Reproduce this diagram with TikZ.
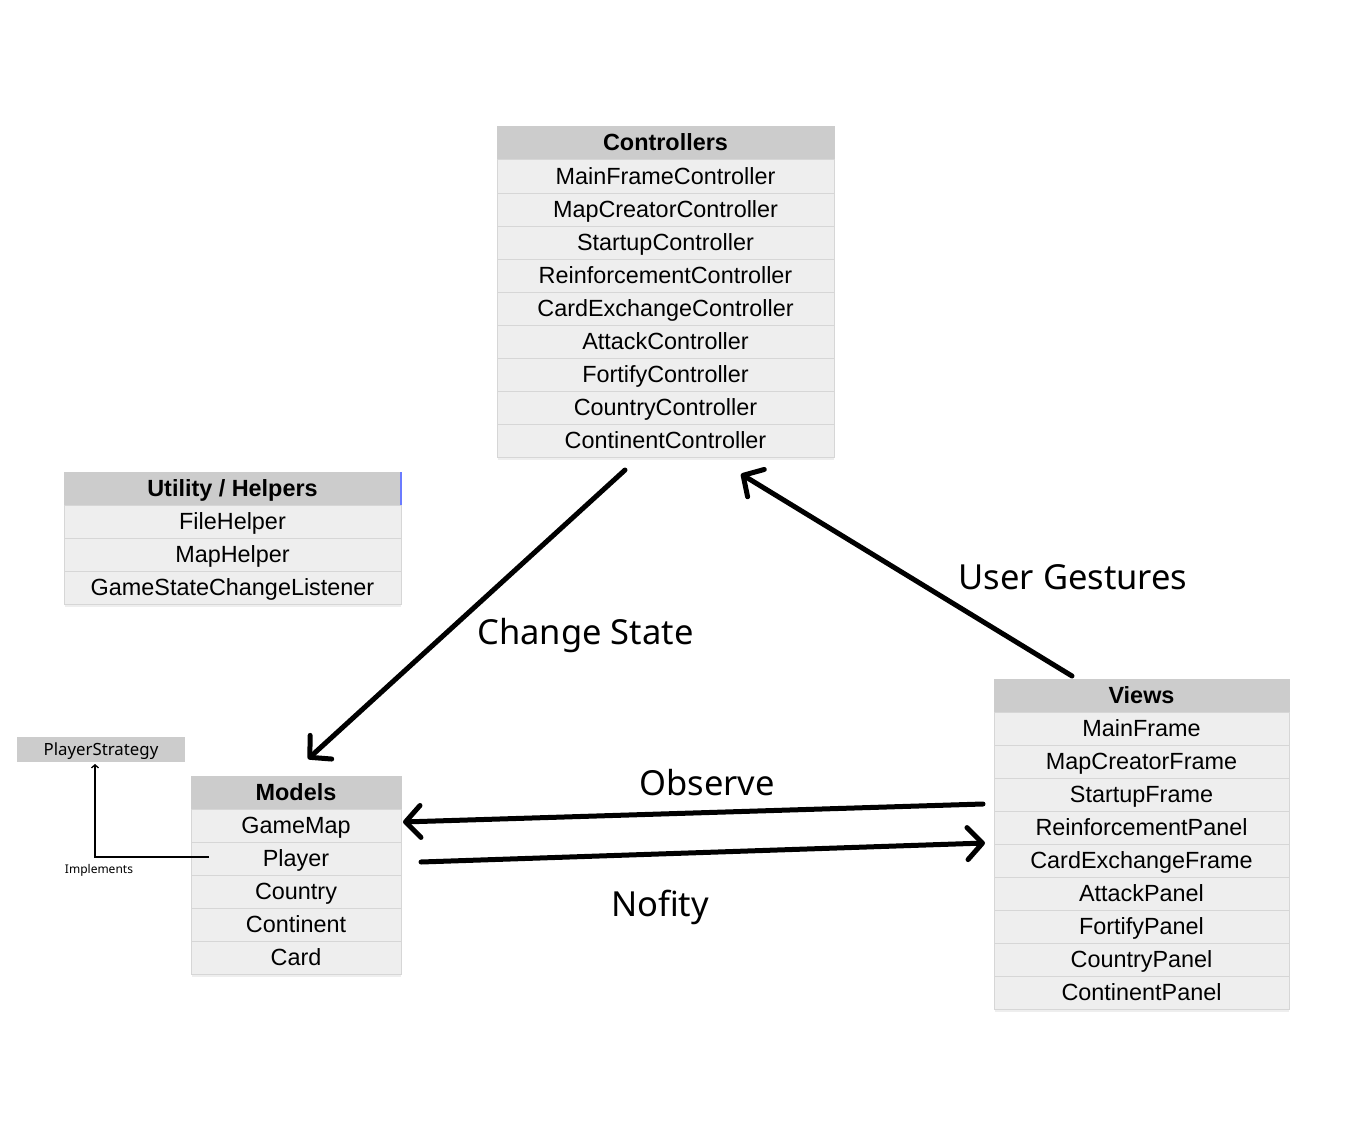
\documentclass[tikz,border=0pt]{standalone}
\usepackage{fontspec}
\setmainfont{Liberation Sans}
\newfontfamily\labelfont{Noto Sans}
\usetikzlibrary{arrows.meta}
\definecolor{hdrgray}{HTML}{CCCCCC}
\definecolor{rowgray}{HTML}{EEEEEE}
\definecolor{sepgray}{HTML}{D6D6D6}
\definecolor{edgeblue}{HTML}{6B7BFF}
\tikzset{
  cell/.style={inner sep=0pt, minimum height=33pt, line width=1pt, draw=sepgray,
    text height=16.5pt, text depth=1.5pt, font=\fontsize{23.4}{23.4}\selectfont},
  hdr/.style={cell, fill=hdrgray, draw=hdrgray, font=\fontsize{23.4}{23.4}\selectfont\bfseries},
  rowcell/.style={cell, fill=rowgray},
  bigarrow/.style={line width=5pt, line cap=round,
    -{Straight Barb[length=15pt,width=32pt,round]}},
  biglabel/.style={inner sep=0pt, anchor=base, font=\labelfont\fontsize{34.5}{34.5}\selectfont},
}
\begin{document}
\begin{tikzpicture}[x=1pt,y=-1pt]
\useasboundingbox (0,0) rectangle (1363,1137);

% Controllers
\node[hdr, minimum width=337pt] (ctlh) at (665.5,143.5) {Controllers};
\foreach [count=\i] \t in {MainFrameController,MapCreatorController,StartupController,ReinforcementController,CardExchangeController,AttackController,FortifyController,CountryController,ContinentController}
  \node[rowcell, minimum width=337pt] (ctl\i) at (665.5,{160+16.5+(\i-1)*33}) {\t};
\fill[rowgray] (497.5,457.5) rectangle (833.5,460);

% Utility
\node[hdr, minimum width=337pt] (utlh) at (232.5,488.5) {Utility / Helpers};
\draw[edgeblue, line width=2pt] (401,472) -- (401,505);
\foreach [count=\i] \t in {FileHelper,MapHelper,GameStateChangeListener}
  \node[rowcell, minimum width=337pt] (utl\i) at (232.5,{505+16.5+(\i-1)*33}) {\t};
\fill[rowgray] (64.5,604.5) rectangle (400.5,607);

% Models
\node[hdr, minimum width=210pt] (mdlh) at (296,792.5) {Models};
\foreach [count=\i] \t in {GameMap,Player,Country,Continent,Card}
  \node[rowcell, minimum width=210pt] (mdl\i) at (296,{809+16.5+(\i-1)*33}) {\t};
\fill[rowgray] (191.5,974.5) rectangle (400.5,977);

% Views
\node[hdr, minimum width=295pt] (vwh) at (1141.5,695.5) {Views};
\foreach [count=\i] \t in {MainFrame,MapCreatorFrame,StartupFrame,ReinforcementPanel,CardExchangeFrame,AttackPanel,FortifyPanel,CountryPanel,ContinentPanel}
  \node[rowcell, minimum width=295pt] (vw\i) at (1141.5,{712+16.5+(\i-1)*33}) {\t};
\fill[rowgray] (994.5,1009.5) rectangle (1288.5,1012);

% PlayerStrategy
\node[fill=hdrgray, inner sep=0pt, minimum width=168pt, minimum height=25pt,
  text height=12pt, text depth=0pt,
  font=\labelfont\fontsize{16.8}{16.8}\selectfont] (ps) at (101,749.5) {PlayerStrategy};
\node[inner sep=0pt, font=\labelfont\fontsize{12}{12}\selectfont] (impl) at (99,870.5) {Implements};
\coordinate (implstart) at (209,857);
\coordinate (implend) at (95,764);
\draw[line width=1.3pt, -{Straight Barb[length=3pt,width=7pt]}] (implstart) -| (implend);

% Arrows
\coordinate (cs1) at (625,470);
\coordinate (cs2) at (308,759);
\draw[bigarrow] (cs1) -- (cs2);
\coordinate (ug1) at (1072,676);
\coordinate (ug2) at (741,474);
\draw[bigarrow] (ug1) -- (ug2);
\coordinate (ob1) at (983,804);
\coordinate (ob2) at (403,822);
\draw[bigarrow] (ob1) -- (ob2);
\coordinate (nf1) at (421,862);
\coordinate (nf2) at (985,843);
\draw[bigarrow] (nf1) -- (nf2);

% Labels
\node[biglabel] (lcs) at (585.5,644) {Change State};
\node[biglabel] (lug) at (1073,589) {User Gestures};
\node[biglabel] (lob) at (707,795) {Observe};
\node[biglabel] (lnf) at (660,916) {Nofity};
\end{tikzpicture}
\end{document}
